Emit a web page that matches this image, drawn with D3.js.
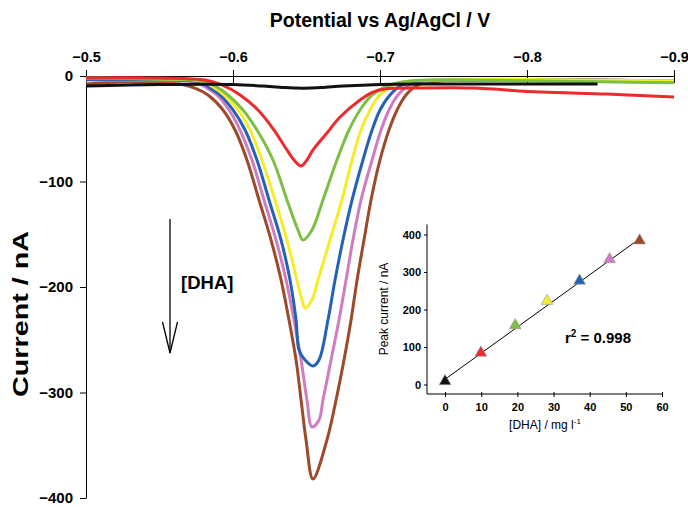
<!DOCTYPE html>
<html>
<head>
<meta charset="utf-8">
<script src="https://cdn.jsdelivr.net/npm/d3@7/dist/d3.min.js"></script>
<style>
  body { margin: 0; background: #fff; }
  svg { display: block; font-family: 'Liberation Sans', Arial, sans-serif; }
  .tick text { font-weight: bold; }
</style>
</head>
<body>
<svg id="chart" width="688" height="507"></svg>
<script>
// Voltammograms: [potential (V), current (nA)], one array per [DHA] level
const blank = [[-0.500, -9.5], [-0.550, -8], [-0.600, -8], [-0.620, -9.5], [-0.635, -11], [-0.648, -11.5],
  [-0.660, -11], [-0.675, -9.5], [-0.700, -8], [-0.730, -7.5], [-0.780, -7.5], [-0.848, -7.5]];
const dha1 = [[-0.500, -1.9], [-0.550, -1.9], [-0.581, -3.8], [-0.5925, -8.5], [-0.6048, -18], [-0.617, -32.2],
  [-0.6279, -51.2], [-0.6367, -70.1], [-0.6415, -79.6], [-0.6463, -85.3], [-0.6503, -79.6], [-0.6544, -70.1],
  [-0.6639, -54], [-0.6728, -38.9], [-0.6864, -22.7], [-0.6952, -15.2], [-0.7034, -12.3], [-0.7272, -11.4],
  [-0.763, -11.4], [-0.809, -15.2], [-0.854, -17.1], [-0.900, -19.9]];
const dha2 = [[-0.500, -2.4], [-0.550, -2.8], [-0.5776, -4.3], [-0.5878, -9.5], [-0.5966, -18], [-0.6068, -32.2],
  [-0.6163, -51.2], [-0.6272, -79.6], [-0.6367, -117.5], [-0.6442, -146], [-0.6476, -155.5], [-0.6537, -146],
  [-0.6612, -117.5], [-0.6707, -79.6], [-0.6789, -51.2], [-0.6864, -32.2], [-0.6946, -18], [-0.7068, -8.5],
  [-0.7204, -4.7], [-0.754, -3.8], [-0.800, -4.5], [-0.850, -5.5], [-0.900, -6.5]];
const dha3 = [[-0.500, -1.9], [-0.550, -2.8], [-0.5776, -4.7], [-0.5864, -10.4], [-0.5939, -18], [-0.6034, -32.2],
  [-0.6116, -51.2], [-0.6197, -79.6], [-0.6286, -117.5], [-0.6367, -155.5], [-0.6435, -193.4], [-0.6469, -212.3],
  [-0.6490, -219.9], [-0.6537, -212.3], [-0.6578, -193.4], [-0.6660, -155.5], [-0.6741, -117.5], [-0.6810, -79.6],
  [-0.6871, -51.2], [-0.6932, -32.2], [-0.7000, -18], [-0.7095, -8.5], [-0.7218, -4.7], [-0.741, -3.8],
  [-0.780, -3], [-0.850, -4], [-0.900, -4.5]];
const dha4 = [[-0.500, -3.3], [-0.550, -3.8], [-0.5776, -5.5], [-0.5844, -11.4], [-0.5912, -18], [-0.6000, -32.2],
  [-0.6082, -51.2], [-0.6163, -79.6], [-0.6245, -117.5], [-0.6327, -155.5], [-0.6388, -193.4], [-0.6429, -231.3],
  [-0.6449, -259.7], [-0.6490, -269.2], [-0.6544, -274.9], [-0.6585, -269.2], [-0.6646, -231.3], [-0.6694, -193.4],
  [-0.6748, -155.5], [-0.6810, -117.5], [-0.6884, -79.6], [-0.6946, -51.2], [-0.7000, -32.2], [-0.7068, -18],
  [-0.7150, -8.5], [-0.7272, -4.7], [-0.761, -3.8], [-0.800, -3.5], [-0.850, -4], [-0.900, -5]];
const dha5 = [[-0.500, -3.8], [-0.550, -4.5], [-0.5741, -5.7], [-0.5823, -11.4], [-0.5891, -18], [-0.5973, -32.2],
  [-0.6048, -51.2], [-0.6129, -79.6], [-0.6211, -117.5], [-0.6293, -155.5], [-0.6361, -193.4], [-0.6415, -231.3],
  [-0.6463, -269.2], [-0.6503, -307.1], [-0.6537, -332.7], [-0.6585, -326.1], [-0.6612, -307.1], [-0.6667, -269.2],
  [-0.6721, -231.3], [-0.6769, -193.4], [-0.6816, -155.5], [-0.6871, -117.5], [-0.6946, -79.6], [-0.7007, -51.2],
  [-0.7061, -32.2], [-0.7122, -18], [-0.7204, -8.5], [-0.7340, -4.7], [-0.768, -3.8], [-0.800, -3.5],
  [-0.850, -4], [-0.900, -5]];
const dha6 = [[-0.500, -7.6], [-0.525, -5.8], [-0.550, -6.4], [-0.5639, -7.6], [-0.5741, -11.4], [-0.5830, -18],
  [-0.5932, -32.2], [-0.6014, -51.2], [-0.6095, -79.6], [-0.6177, -117.5], [-0.6259, -155.5], [-0.6327, -193.4],
  [-0.6381, -231.3], [-0.6429, -269.2], [-0.6463, -307.1], [-0.6497, -345], [-0.6544, -382], [-0.6639, -345],
  [-0.6701, -307.1], [-0.6755, -269.2], [-0.6803, -231.3], [-0.6844, -193.4], [-0.6891, -155.5], [-0.6939, -117.5],
  [-0.7000, -79.6], [-0.7061, -51.2], [-0.7116, -32.2], [-0.7177, -18], [-0.7259, -8.5], [-0.7408, -4.7],
  [-0.775, -3.8], [-0.820, -3.5], [-0.860, -4], [-0.900, -4.5]];

const curves = [blank, dha1, dha2, dha3, dha4, dha5, dha6];
const curveColors = ['#111111', '#ee2a2e', '#7cbf45', '#f7ec2a', '#2462b8', '#d07cc0', '#9c4a2a'];

// Calibration inset
const concentrations = [0, 9.9, 19.4, 28.2, 37.2, 45.5, 53.8];
const peakCurrents = [6, 82, 155, 220, 274, 331, 381];

const xTicks = [-0.5, -0.6, -0.7, -0.8, -0.9];
const yTicks = [0, -100, -200, -300, -400];
const insetXTicks = [0, 10, 20, 30, 40, 50, 60];
const insetYTicks = [0, 100, 200, 300, 400];

const svg = d3.select('#chart');

const x = d3.scaleLinear().domain([-0.5, -0.9]).range([86, 674]);
const y = d3.scaleLinear().domain([0, -400]).range([76, 498]);

// top potential axis
const xAxis = svg.append('g')
  .attr('transform', `translate(0,${y(0)})`)
  .call(d3.axisTop(x).tickValues(xTicks).tickFormat(d3.format('.1f')).tickSizeInner(6).tickSizeOuter(0));
xAxis.selectAll('.tick line').attr('y2', -6).attr('y1', 7);
xAxis.selectAll('.tick text').attr('font-size', 14.5).attr('y', -14);
xAxis.select('.domain').attr('stroke-width', 1);

const yAxis = svg.append('g')
  .attr('transform', `translate(${x(-0.5)},0)`)
  .call(d3.axisLeft(y).tickValues(yTicks).tickSizeInner(6).tickSizeOuter(0));
yAxis.selectAll('.tick text').attr('font-size', 15).attr('x', -13);
yAxis.select('.domain').attr('stroke-width', 1);

svg.append('text')
  .attr('x', 380).attr('y', 27)
  .attr('text-anchor', 'middle')
  .attr('font-size', 19.5).attr('font-weight', 'bold')
  .text('Potential vs Ag/AgCl / V');

svg.append('text')
  .attr('transform', 'translate(28,314) rotate(-90)')
  .attr('text-anchor', 'middle')
  .attr('font-size', 22).attr('font-weight', 'bold')
  .attr('textLength', 166).attr('lengthAdjust', 'spacingAndGlyphs')
  .text('Current / nA');

// voltammograms
const line = d3.line()
  .x(d => x(d[0]))
  .y(d => y(d[1]))
  .curve(d3.curveCatmullRom.alpha(0.5));

svg.append('g').selectAll('path')
  .data(curves.map((c, i) => ({ points: c, color: curveColors[i] })).reverse())
  .join('path')
  .attr('d', d => line(d.points))
  .attr('fill', 'none')
  .attr('stroke', d => d.color)
  .attr('stroke-width', 3)
  .attr('stroke-linejoin', 'round');

// concentration arrow
const arrow = svg.append('g').attr('stroke', '#000').attr('stroke-width', 1.3).attr('fill', 'none');
arrow.append('line').attr('x1', 170).attr('y1', 219).attr('x2', 170).attr('y2', 353);
arrow.append('path').attr('d', 'M162.5,322L170,353L177.5,322');
svg.append('text')
  .attr('x', 181).attr('y', 289)
  .attr('font-size', 18.5).attr('font-weight', 'bold')
  .text('[DHA]');

// inset calibration plot
const ix = d3.scaleLinear().domain([-5, 60]).range([427, 662]);
const iy = d3.scaleLinear().domain([0, 400]).range([384.5, 234.5]);

const insetX = svg.append('g')
  .attr('transform', 'translate(0,394)')
  .call(d3.axisBottom(ix).tickValues(insetXTicks).tickSizeInner(3).tickSizeOuter(0));
insetX.selectAll('.tick text').attr('font-size', 11).attr('y', 9);
insetX.selectAll('.tick line').attr('y1', -2).attr('y2', 3);

const insetY = svg.append('g')
  .attr('transform', 'translate(427,0)')
  .call(d3.axisLeft(iy).tickValues(insetYTicks).tickSizeInner(3).tickSizeOuter(0));
insetY.selectAll('.tick text').attr('font-size', 11).attr('x', -6);
insetY.select('.domain').attr('d', `M0,${iy(427)}V394`);
insetX.select('.domain').attr('d', `M${ix(-5)},0H${ix(60)}`);

// least-squares calibration line
const n = concentrations.length;
const mx = d3.mean(concentrations);
const my = d3.mean(peakCurrents);
const slope = d3.sum(concentrations, (c, i) => (c - mx) * (peakCurrents[i] - my)) /
  d3.sum(concentrations, c => (c - mx) * (c - mx));
const intercept = my - slope * mx;
const fitEnds = [concentrations[0], concentrations[n - 1]];
svg.append('line')
  .attr('x1', ix(fitEnds[0])).attr('y1', iy(intercept + slope * fitEnds[0]))
  .attr('x2', ix(fitEnds[1])).attr('y2', iy(intercept + slope * fitEnds[1]))
  .attr('stroke', '#000').attr('stroke-width', 1);

const tri = d3.symbol().type(d3.symbolTriangle).size(60);
svg.append('g').selectAll('path')
  .data(concentrations)
  .join('path')
  .attr('transform', (c, i) => `translate(${ix(c)},${iy(peakCurrents[i]) - 1})`)
  .attr('d', tri)
  .attr('fill', (c, i) => curveColors[i])
  .attr('stroke', '#999')
  .attr('stroke-width', 0.6);

svg.append('text')
  .attr('transform', 'translate(388,309) rotate(-90)')
  .attr('text-anchor', 'middle')
  .attr('font-size', 12)
  .text('Peak current / nA');

const xl = svg.append('text')
  .attr('x', 545).attr('y', 429)
  .attr('text-anchor', 'middle')
  .attr('font-size', 12)
  .text('[DHA] / mg l');
xl.append('tspan').attr('dy', -5).attr('font-size', 8).text('-1');

const r2 = svg.append('text')
  .attr('x', 565).attr('y', 343)
  .attr('font-size', 15).attr('font-weight', 'bold')
  .text('r');
r2.append('tspan').attr('dy', -6).attr('font-size', 10).text('2');
r2.append('tspan').attr('dy', 6).text(' = 0.998');
</script>
</body>
</html>
